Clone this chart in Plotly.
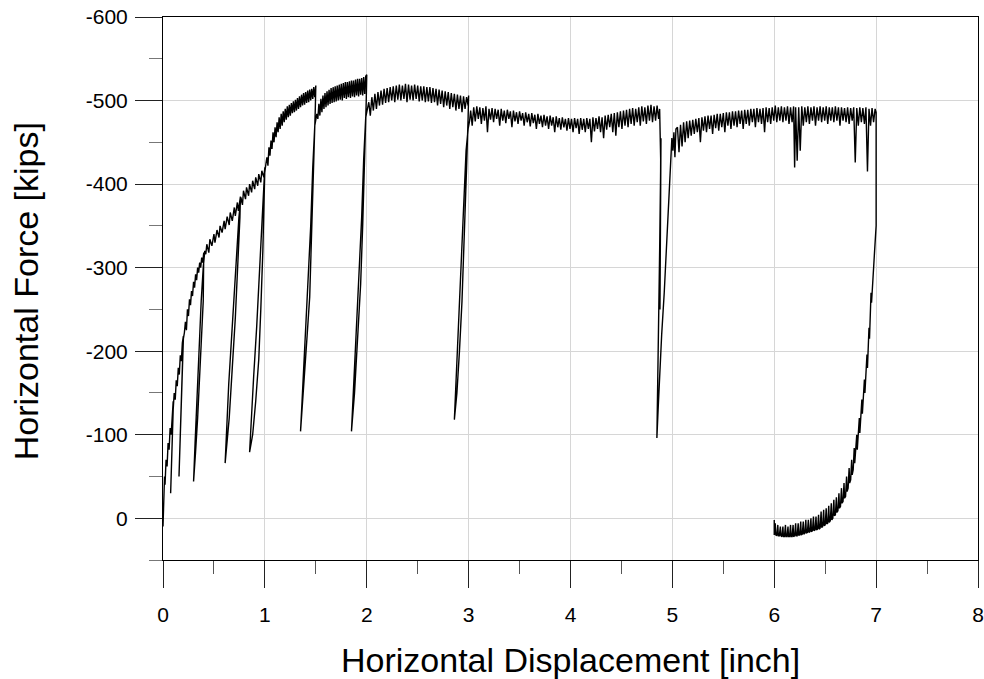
import plotly.graph_objects as go

# ---- data: (displacement [inch], force [kips]), in load order ----
seg_initial = [(0.0, 10), (0.005, -20), (0.015, -50), (0.02, -40), (0.03, -70), (0.04, -62), (0.05, -90),
               (0.06, -82), (0.07, -108), (0.08, -100), (0.09, -125), (0.1, -140), (0.095, -110), (0.085, -70),
               (0.075, -30), (0.08, -60), (0.09, -100), (0.1, -130), (0.11, -150), (0.12, -142), (0.13, -165),
               (0.14, -158), (0.15, -180), (0.16, -172), (0.17, -195), (0.18, -188), (0.19, -210), (0.2, -218),
               (0.19, -180), (0.175, -120), (0.157, -50), (0.165, -100), (0.18, -160), (0.19, -195), (0.2, -215),
               (0.21, -222)]
seg_to_04 = [(0.22, -235), (0.23, -225), (0.24, -250), (0.25, -242), (0.26, -262), (0.27, -255), (0.28, -272),
             (0.29, -266), (0.3, -283), (0.31, -276), (0.32, -292), (0.33, -285), (0.34, -300), (0.35, -294),
             (0.36, -306), (0.37, -300), (0.38, -312), (0.39, -306), (0.4, -318)]
cycle_04 = [(0.395, -260), (0.37, -190), (0.34, -120), (0.32, -80), (0.30, -44), (0.315, -90), (0.335, -150),
            (0.355, -210), (0.375, -260), (0.395, -300), (0.41, -320)]
seg_to_076 = [(0.42, -316), (0.43, -328), (0.45, -318), (0.46, -334), (0.48, -326), (0.5, -340), (0.51, -330),
              (0.53, -345), (0.55, -336), (0.56, -350), (0.58, -342), (0.6, -356), (0.61, -346), (0.63, -361),
              (0.65, -351), (0.66, -366), (0.68, -356), (0.7, -372), (0.71, -362), (0.73, -378), (0.74, -368),
              (0.76, -385)]
cycle_075 = [(0.755, -360), (0.735, -300), (0.71, -240), (0.68, -180), (0.65, -120), (0.61, -66), (0.625, -110),
             (0.645, -160), (0.67, -210), (0.695, -260), (0.72, -310), (0.745, -360), (0.765, -384)]
seg_to_1 = [(0.78, -375), (0.79, -392), (0.81, -382), (0.82, -396), (0.84, -386), (0.85, -400), (0.87, -390),
            (0.88, -404), (0.9, -394), (0.91, -408), (0.93, -398), (0.94, -412), (0.96, -402), (0.97, -416),
            (0.99, -408), (1.0, -420)]
cycle_1 = [(0.995, -390), (0.98, -320), (0.96, -250), (0.94, -190), (0.91, -140), (0.88, -100), (0.85, -79),
           (0.865, -120), (0.89, -170), (0.92, -230), (0.95, -300), (0.975, -370), (0.995, -410), (1.01, -424)]
seg_to_15 = [(1.02, -432), (1.03, -422), (1.04, -444), (1.05, -434), (1.06, -452), (1.07, -442), (1.08, -462),
             (1.09, -450), (1.1, -468), (1.11, -456), (1.12, -474), (1.13, -462), (1.14, -480), (1.15, -466),
             (1.16, -484), (1.17, -470), (1.18, -487), (1.19, -474), (1.2, -490), (1.21, -477), (1.22, -493),
             (1.23, -480), (1.24, -495), (1.25, -482), (1.26, -497), (1.27, -485), (1.28, -499), (1.29, -486),
             (1.3, -501), (1.31, -488), (1.32, -503), (1.33, -490), (1.34, -505), (1.35, -492), (1.36, -507),
             (1.37, -494), (1.38, -509), (1.39, -495), (1.4, -510), (1.41, -497), (1.42, -512), (1.43, -498),
             (1.44, -513), (1.45, -500), (1.46, -514), (1.47, -502), (1.48, -516), (1.49, -504), (1.5, -518)]
cycle_15 = [(1.495, -490), (1.48, -420), (1.46, -340), (1.44, -265), (1.41, -210), (1.38, -150), (1.35, -104),
            (1.365, -140), (1.39, -200), (1.42, -270), (1.45, -350), (1.47, -420), (1.49, -470), (1.51, -484)]
seg_to_2 = [(1.52, -478), (1.53, -496), (1.54, -482), (1.55, -502), (1.56, -486), (1.57, -506), (1.58, -490),
            (1.59, -509), (1.6, -492), (1.61, -511), (1.62, -494), (1.63, -513), (1.64, -496), (1.65, -515),
            (1.66, -497), (1.67, -516), (1.68, -498), (1.69, -517), (1.7, -499), (1.71, -518), (1.72, -500),
            (1.73, -519), (1.74, -501), (1.75, -520), (1.76, -500), (1.77, -521), (1.78, -503), (1.79, -522),
            (1.8, -502), (1.81, -522), (1.82, -504), (1.83, -523), (1.84, -503), (1.85, -524), (1.86, -505),
            (1.87, -524), (1.88, -504), (1.89, -525), (1.9, -506), (1.91, -526), (1.92, -505), (1.93, -526),
            (1.94, -507), (1.95, -527), (1.96, -506), (1.97, -528), (1.98, -508), (1.99, -529), (2.0, -531)]
cycle_2 = [(1.995, -500), (1.98, -430), (1.96, -350), (1.94, -280), (1.91, -210), (1.88, -150), (1.85, -104),
           (1.865, -140), (1.89, -200), (1.92, -280), (1.95, -360), (1.97, -430), (1.99, -480), (2.01, -492)]
seg_to_3 = [(2.02, -498), (2.035, -482), (2.05, -504), (2.065, -488), (2.08, -508), (2.095, -490), (2.11, -510),
            (2.125, -494), (2.14, -512), (2.155, -495), (2.17, -514), (2.185, -497), (2.2, -515), (2.215, -498),
            (2.23, -516), (2.245, -500), (2.26, -517), (2.275, -498), (2.29, -518), (2.305, -501), (2.32, -519),
            (2.335, -500), (2.35, -518), (2.365, -502), (2.38, -520), (2.395, -498), (2.41, -519), (2.425, -501),
            (2.44, -518), (2.455, -500), (2.47, -519), (2.485, -502), (2.5, -518), (2.515, -499), (2.53, -517),
            (2.545, -500), (2.56, -517), (2.575, -498), (2.59, -516), (2.605, -499), (2.62, -516), (2.635, -497),
            (2.65, -515), (2.665, -498), (2.68, -514), (2.695, -494), (2.71, -513), (2.725, -496), (2.74, -512),
            (2.755, -492), (2.77, -511), (2.785, -494), (2.8, -510), (2.815, -490), (2.83, -509), (2.845, -492),
            (2.86, -508), (2.875, -488), (2.89, -507), (2.905, -490), (2.92, -506), (2.935, -486), (2.95, -505),
            (2.965, -490), (2.98, -504), (2.995, -494), (3.0, -506)]
cycle_3 = [(2.995, -480), (2.98, -420), (2.96, -340), (2.935, -260), (2.91, -200), (2.885, -150), (2.86, -118),
           (2.875, -160), (2.9, -230), (2.925, -300), (2.95, -380), (2.975, -440), (2.995, -466), (3.01, -476)]
seg_to_49 = [(3.02, -488), (3.035, -470), (3.05, -492), (3.065, -475), (3.08, -493), (3.095, -478), (3.11, -492),
             (3.125, -472), (3.14, -491), (3.155, -476), (3.17, -493), (3.185, -462), (3.2, -490), (3.215, -477),
             (3.23, -491), (3.245, -474), (3.26, -490), (3.275, -478), (3.29, -489), (3.305, -470), (3.32, -490),
             (3.335, -476), (3.35, -488), (3.365, -473), (3.38, -489), (3.395, -478), (3.41, -487), (3.425, -468),
             (3.44, -488), (3.455, -475), (3.47, -486), (3.485, -472), (3.5, -487), (3.515, -476), (3.53, -485),
             (3.545, -470), (3.56, -486), (3.575, -474), (3.59, -484), (3.605, -469), (3.62, -485), (3.635, -473),
             (3.65, -483), (3.665, -466), (3.68, -484), (3.695, -472), (3.71, -482), (3.725, -468), (3.74, -483),
             (3.755, -470), (3.77, -481), (3.785, -466), (3.8, -482), (3.815, -470), (3.83, -480), (3.845, -462),
             (3.86, -481), (3.875, -468), (3.89, -479), (3.905, -465), (3.92, -480), (3.935, -468), (3.95, -478),
             (3.965, -464), (3.98, -479), (3.995, -466), (4.01, -478), (4.025, -462), (4.04, -479), (4.055, -467),
             (4.07, -478), (4.085, -460), (4.1, -479), (4.115, -465), (4.13, -478), (4.145, -462), (4.16, -479),
             (4.175, -466), (4.19, -478), (4.205, -450), (4.22, -480), (4.235, -463), (4.25, -479), (4.265, -466),
             (4.28, -481), (4.295, -462), (4.31, -480), (4.325, -455), (4.34, -482), (4.355, -465), (4.37, -483),
             (4.385, -468), (4.4, -484), (4.415, -462), (4.43, -485), (4.445, -458), (4.46, -486), (4.475, -468),
             (4.49, -487), (4.505, -466), (4.52, -488), (4.535, -470), (4.55, -489), (4.565, -468), (4.58, -490),
             (4.595, -472), (4.61, -491), (4.625, -470), (4.64, -490), (4.655, -474), (4.67, -492), (4.685, -470),
             (4.7, -493), (4.715, -475), (4.73, -492), (4.745, -472), (4.76, -494), (4.775, -476), (4.79, -495),
             (4.805, -474), (4.82, -493), (4.835, -476), (4.85, -494), (4.865, -478), (4.875, -490)]
cycle_49 = [(4.88, -470), (4.885, -430), (4.878, -250), (4.882, -380), (4.888, -455), (4.884, -410), (4.875, -320),
            (4.865, -230), (4.857, -160), (4.85, -110), (4.848, -96), (4.86, -130), (4.875, -170), (4.895, -220),
            (4.92, -270), (4.945, -330), (4.965, -380), (4.985, -430), (4.995, -455), (5.005, -440), (5.015, -462),
            (5.025, -432), (5.035, -466)]
seg_to_7 = [(5.05, -468), (5.065, -438), (5.08, -471), (5.095, -445), (5.11, -474), (5.125, -450), (5.14, -475),
            (5.155, -455), (5.17, -476), (5.185, -458), (5.2, -477), (5.215, -460), (5.23, -478), (5.245, -462),
            (5.26, -479), (5.275, -450), (5.29, -480), (5.305, -464), (5.32, -481), (5.335, -462), (5.35, -482),
            (5.365, -466), (5.38, -482), (5.395, -460), (5.41, -483), (5.425, -467), (5.44, -484), (5.455, -464),
            (5.47, -484), (5.485, -468), (5.5, -485), (5.515, -462), (5.53, -486), (5.545, -470), (5.56, -486),
            (5.575, -466), (5.59, -487), (5.605, -470), (5.62, -487), (5.635, -468), (5.65, -488), (5.665, -472),
            (5.68, -488), (5.695, -466), (5.71, -489), (5.725, -472), (5.74, -489), (5.755, -470), (5.77, -490),
            (5.785, -474), (5.8, -490), (5.815, -468), (5.83, -491), (5.845, -474), (5.86, -490), (5.875, -472),
            (5.89, -491), (5.905, -462), (5.92, -492), (5.935, -474), (5.95, -491), (5.965, -472), (5.98, -492),
            (5.995, -476), (6.01, -494), (6.025, -474), (6.04, -492), (6.055, -476), (6.07, -493), (6.085, -474),
            (6.1, -492), (6.115, -476), (6.13, -493), (6.145, -472), (6.16, -492), (6.175, -474), (6.19, -493),
            (6.2, -420), (6.21, -492), (6.225, -428), (6.24, -492), (6.255, -440), (6.27, -493), (6.285, -470),
            (6.3, -492), (6.315, -474), (6.33, -493), (6.345, -472), (6.36, -492), (6.375, -476), (6.39, -493),
            (6.405, -470), (6.42, -492), (6.435, -476), (6.45, -493), (6.465, -474), (6.48, -492), (6.495, -476),
            (6.51, -493), (6.525, -472), (6.54, -492), (6.555, -476), (6.57, -492), (6.585, -474), (6.6, -493),
            (6.615, -476), (6.63, -492), (6.645, -470), (6.66, -492), (6.675, -476), (6.69, -491), (6.705, -474),
            (6.72, -492), (6.735, -472), (6.75, -491), (6.765, -476), (6.78, -492), (6.795, -426), (6.81, -491),
            (6.825, -470), (6.84, -492), (6.855, -474), (6.87, -491), (6.885, -472), (6.9, -492), (6.915, -415),
            (6.93, -490), (6.945, -470), (6.96, -491), (6.975, -474), (6.99, -490), (7.0, -486)]
unload_7_to_6 = [(7.0, -420), (7.0, -350), (6.985, -320), (6.975, -300), (6.965, -275), (6.955, -258),
                 (6.95, -270), (6.945, -238), (6.935, -215), (6.93, -228), (6.925, -200), (6.915, -180),
                 (6.91, -196), (6.9, -165), (6.89, -150), (6.885, -166), (6.875, -138), (6.865, -125),
                 (6.86, -142), (6.85, -112), (6.84, -102), (6.835, -120), (6.825, -92), (6.815, -82),
                 (6.81, -100), (6.8, -74), (6.79, -66), (6.785, -84), (6.775, -58), (6.765, -52), (6.76, -70),
                 (6.75, -46), (6.74, -42), (6.735, -60), (6.725, -36), (6.715, -32), (6.71, -50), (6.7, -26),
                 (6.69, -24), (6.685, -42), (6.675, -20), (6.665, -18), (6.66, -36), (6.65, -14), (6.64, -12),
                 (6.635, -30), (6.625, -9), (6.615, -7), (6.61, -25), (6.6, -4), (6.59, -3), (6.585, -22),
                 (6.575, 0), (6.565, 2), (6.56, -18), (6.55, 3), (6.54, 5), (6.535, -15), (6.525, 6), (6.515, 7),
                 (6.51, -12), (6.5, 8), (6.49, 9), (6.485, -10), (6.475, 10), (6.465, 11), (6.46, -8), (6.45, 12),
                 (6.44, 13), (6.435, -4), (6.425, 13), (6.415, 14), (6.41, -2), (6.4, 14), (6.39, 15), (6.385, -2),
                 (6.375, 15), (6.365, 16), (6.36, 0), (6.35, 16), (6.34, 17), (6.335, 2), (6.325, 17), (6.315, 18),
                 (6.31, 2), (6.3, 18), (6.29, 19), (6.285, 4), (6.275, 19), (6.265, 20), (6.26, 4), (6.25, 20),
                 (6.24, 20), (6.235, 6), (6.225, 21), (6.215, 21), (6.21, 6), (6.2, 21), (6.19, 22), (6.185, 8),
                 (6.175, 22), (6.165, 22), (6.16, 8), (6.15, 22), (6.14, 22), (6.135, 10), (6.125, 22),
                 (6.115, 22), (6.11, 8), (6.1, 22), (6.09, 22), (6.085, 10), (6.075, 22), (6.065, 21), (6.06, 10),
                 (6.05, 21), (6.04, 21), (6.035, 8), (6.025, 21), (6.015, 20), (6.01, 6), (6.0, 20), (6.0, 2),
                 (6.0, 18)]

x_tick_vals = [0, 1, 2, 3, 4, 5, 6, 7, 8]
x_tick_text = ["0", "1", "2", "3", "4", "5", "6", "7", "8"]
x_minor_vals = [0.5, 1.5, 2.5, 3.5, 4.5, 5.5, 6.5, 7.5]
y_tick_vals = [-600, -500, -400, -300, -200, -100, 0]
y_tick_text = ["-600", "-500", "-400", "-300", "-200", "-100", "0"]
y_minor_vals = [-550, -450, -350, -250, -150, -50, 50]

x_title = "Horizontal Displacement [inch]"
y_title = "Horizontal Force [kips]"

segments = [seg_initial, seg_to_04, cycle_04, seg_to_076, cycle_075, seg_to_1, cycle_1, seg_to_15, cycle_15,
            seg_to_2, cycle_2, seg_to_3, cycle_3, seg_to_49, cycle_49, seg_to_7, unload_7_to_6]
xs = [p[0] for s in segments for p in s]
ys = [p[1] for s in segments for p in s]

FONT = "Arial, 'Liberation Sans', sans-serif"

fig = go.Figure()
fig.add_trace(go.Scatter(x=xs, y=ys, mode="lines", line=dict(color="black", width=1.4), showlegend=False,
                         hoverinfo="skip"))

fig.update_layout(
    width=984, height=679,
    margin=dict(l=163, r=6, t=17, b=119, pad=0),
    paper_bgcolor="white", plot_bgcolor="white",
    font=dict(family=FONT, color="black"),
    xaxis=dict(range=[0, 8], tickmode="array", tickvals=x_tick_vals, ticktext=x_tick_text, automargin=False,
               ticks="outside", ticklen=27, tickwidth=1, tickcolor="#222",
               showline=True, linecolor="black", linewidth=1, mirror=True,
               showgrid=True, gridcolor="#d6d6d6", gridwidth=1, zeroline=False,
               tickfont=dict(size=21, family=FONT), ticklabelstandoff=9,
               minor=dict(tickmode="array", tickvals=x_minor_vals, ticks="outside", ticklen=13,
                          tickcolor="#555", tickwidth=1, showgrid=False)),
    yaxis=dict(range=[50, -600], tickmode="array", tickvals=y_tick_vals, ticktext=y_tick_text, automargin=False,
               ticks="outside", ticklen=27, tickwidth=1, tickcolor="#222",
               showline=True, linecolor="black", linewidth=1, mirror=True,
               showgrid=True, gridcolor="#d6d6d6", gridwidth=1, zeroline=False,
               tickfont=dict(size=21, family=FONT), ticklabelstandoff=3,
               minor=dict(tickmode="array", tickvals=y_minor_vals, ticks="outside", ticklen=13,
                          tickcolor="#777", tickwidth=1, showgrid=False)),
    annotations=[
        dict(text=x_title, xref="paper", yref="paper", x=0.5, y=-0.184, xanchor="center", yanchor="middle",
             showarrow=False, font=dict(size=34, family=FONT, color="black")),
        dict(text=y_title, xref="paper", yref="paper", x=-0.168, y=0.495, xanchor="center", yanchor="middle",
             textangle=-90, showarrow=False, font=dict(size=34, family=FONT, color="black")),
    ],
)

fig.write_html("out.html")
